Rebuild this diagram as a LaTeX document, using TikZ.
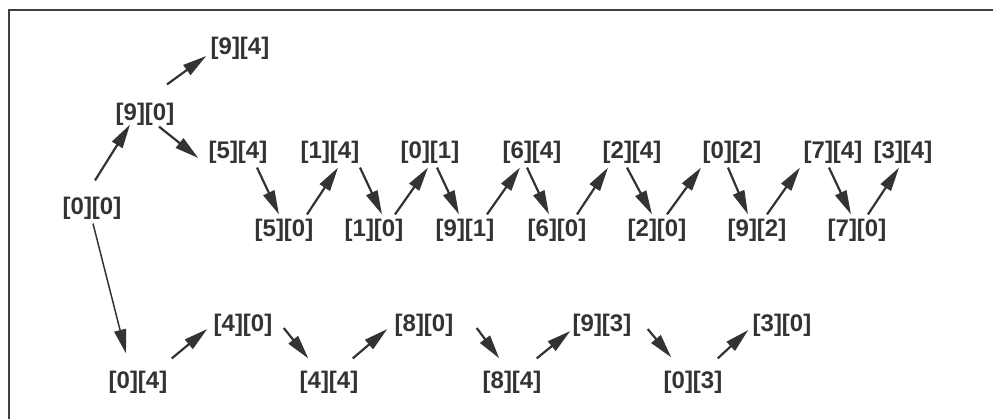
\documentclass[tikz,border=0pt]{standalone}
\usepackage{fontspec}
\setmainfont{Liberation Sans}
\usetikzlibrary{positioning, arrows.meta}
\tikzset{
    cell/.style = {
        inner sep=2pt,
        text=black!80,
        font=\fontsize{12}{14}\selectfont\bfseries
    },
    arrow/.style = {-{Triangle[length=12pt,width=6pt]}, line width=1.1pt, draw=black!80},
    longarrow/.style = {arrow, line width=0.75pt},
    frame/.style = {line width=1.4pt, draw=black!75}
}

\begin{document}
\begin{tikzpicture}[on grid]

\useasboundingbox (0,0) rectangle (496.5pt,-209.5pt);
\draw[frame] (4.5pt,-209.5pt) |- (496.5pt,-5pt);

% Racine
\node[cell] (n00) at (46pt,-104pt) {[0][0]};
\node[cell, above right=47pt and 26.5pt of n00] (n90) {[9][0]};
\node[cell, above right=33pt and 47.5pt of n90] (n94) {[9][4]};

% --- RANGEE DU HAUT ---
\node[cell, below right=19pt and 46.5pt of n90] (n54) {[5][4]};
\node[cell, right=46pt of n54] (n14) {[1][4]};
\node[cell, right=50pt of n14] (n01) {[0][1]};
\node[cell, right=51pt of n01] (n64) {[6][4]};
\node[cell, right=50pt of n64] (n24) {[2][4]};
\node[cell, right=50pt of n24] (n02) {[0][2]};
\node[cell, right=50.5pt of n02] (n74) {[7][4]};
\node[cell, right=35pt of n74] (n34) {[3][4]};

\node[cell, below right=39pt and 23pt of n54] (n50) {[5][0]};
\node[cell, right=45pt of n50] (n10) {[1][0]};
\node[cell, right=45.5pt of n10] (n91) {[9][1]};
\node[cell, right=46pt of n91] (n60) {[6][0]};
\node[cell, right=50pt of n60] (n20) {[2][0]};
\node[cell, right=50pt of n20] (n92) {[9][2]};
\node[cell, right=50pt of n92] (n70) {[7][0]};

\draw[arrow] ([xshift=1.5pt,yshift=6pt]n00.north) -- ([xshift=-7.5pt,yshift=2.5pt]n90.south);
\draw[arrow] ([xshift=11pt,yshift=7pt]n90.north) -- ([yshift=-4pt]n94.west);
\draw[arrow] ([xshift=7pt,yshift=1.5pt]n90.south) -- ([xshift=-3pt,yshift=-3pt]n54.west);

\draw[arrow] ([xshift=9.5pt]n54.south) -- ([xshift=-2.5pt]n50.north);
\draw[arrow] ([xshift=11.5pt]n50.north) -- ([xshift=4pt]n14.south);
\draw[arrow] ([xshift=15pt]n14.south) -- ([xshift=4pt]n10.north);
\draw[arrow] ([xshift=10.5pt]n10.north) -- ([xshift=-1pt]n01.south);
\draw[arrow] ([xshift=3.5pt]n01.south) -- ([xshift=-3pt]n91.north);
\draw[arrow] ([xshift=11pt]n91.north) -- ([xshift=-6pt]n64.south);
\draw[arrow] ([xshift=-2.5pt]n64.south) -- ([xshift=-4pt]n60.north);
\draw[arrow] ([xshift=10pt]n60.north) -- ([xshift=-12pt]n24.south);
\draw[arrow] ([xshift=-2.5pt]n24.south) -- ([xshift=-2.5pt]n20.north);
\draw[arrow] ([xshift=5pt]n20.north) -- ([xshift=-15.5pt]n02.south);
\draw[arrow] ([xshift=-2pt]n02.south) -- ([xshift=-4.5pt]n92.north);
\draw[arrow] ([xshift=5pt]n92.north) -- ([xshift=-16.5pt]n74.south);
\draw[arrow] ([xshift=-2pt]n74.south) -- ([xshift=-3pt]n70.north);
\draw[arrow] ([xshift=5.5pt]n70.north) -- ([xshift=-2pt]n34.south);

% --- RANGEE DU BAS ---
\node[cell, below right=87pt and 23pt of n00] (n04) {[0][4]};
\node[cell, right=95.5pt of n04] (n44) {[4][4]};
\node[cell, right=91.5pt of n44] (n84) {[8][4]};
\node[cell, right=90.5pt of n84] (n03) {[0][3]};

\node[cell, above right=28.5pt and 52.5pt of n04] (n40) {[4][0]};
\node[cell, right=90.5pt of n40] (n80) {[8][0]};
\node[cell, right=89pt of n80] (n93) {[9][3]};
\node[cell, right=90pt of n93] (n30) {[3][0]};

\draw[longarrow] ([xshift=0.5pt]n00.south) -- ([xshift=-6pt,yshift=6.5pt]n04.north);

\draw[arrow] ([yshift=4pt]n04.north east) -- ([xshift=-1pt,yshift=-2pt]n40.west);
\draw[arrow] ([xshift=3.5pt,yshift=-1.5pt]n40.east) -- ([xshift=6.5pt,yshift=4pt]n44.north west);
\draw[arrow] ([xshift=-5pt,yshift=4pt]n44.north east) -- ([xshift=-1.5pt,yshift=-2pt]n80.west);
\draw[arrow] ([xshift=9.5pt,yshift=-1.5pt]n80.east) -- ([xshift=10.5pt,yshift=4pt]n84.north west);
\draw[arrow] ([xshift=-4.5pt,yshift=4pt]n84.north east) -- ([xshift=1pt,yshift=-3pt]n93.west);
\draw[arrow] ([xshift=6pt,yshift=-2pt]n93.east) -- ([xshift=6pt,yshift=4.5pt]n03.north west);
\draw[arrow] ([xshift=-4.5pt,yshift=4pt]n03.north east) -- ([yshift=-2.5pt]n30.west);

\end{tikzpicture}
\end{document}
